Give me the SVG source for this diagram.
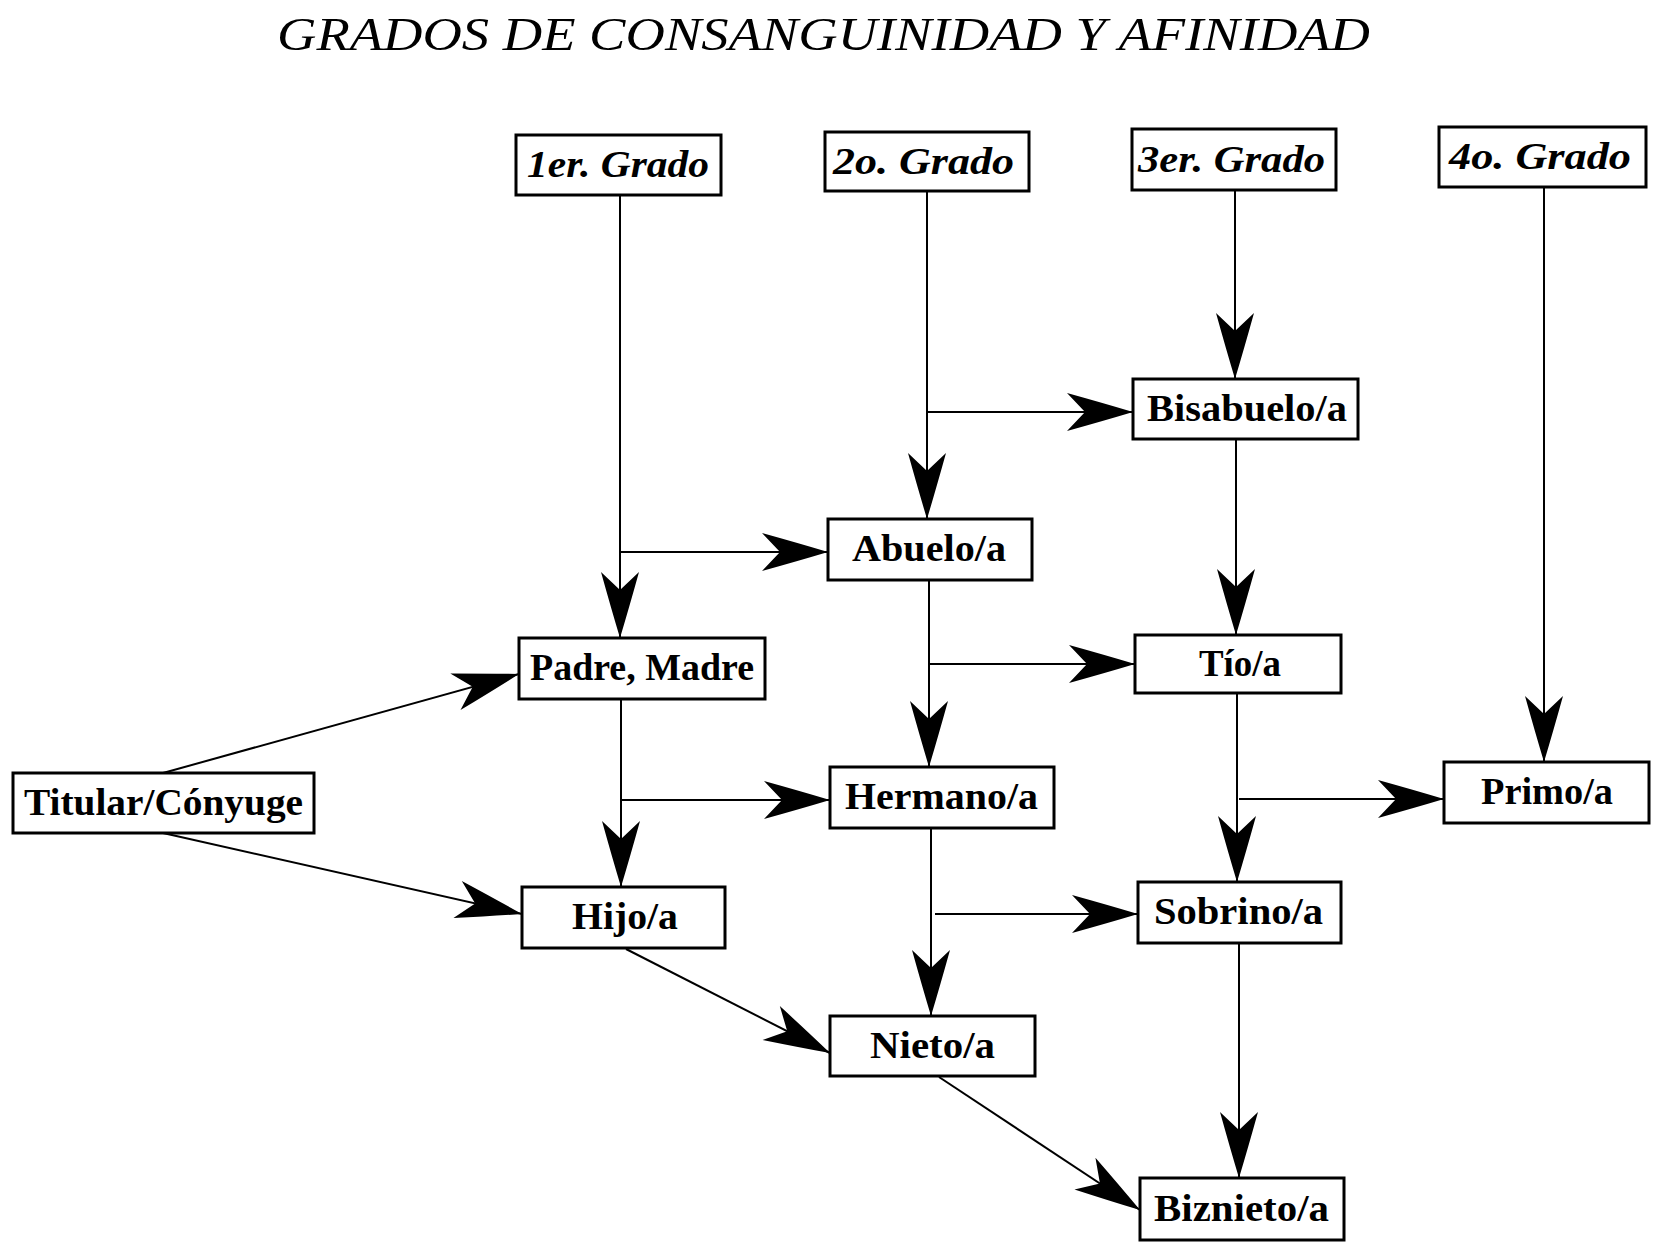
<svg xmlns="http://www.w3.org/2000/svg" width="1654" height="1250" viewBox="0 0 1654 1250">
<style>
.box{fill:#fff;stroke:#000;stroke-width:3}
.lbl{font-family:"Liberation Serif","Times New Roman",serif;font-weight:bold;font-size:38px;fill:#000}
.it{font-style:italic}
.title{font-family:"Liberation Serif","Times New Roman",serif;font-weight:normal;font-style:italic;font-size:46px;fill:#000}
.conn line{stroke:#000;stroke-width:2;fill:none;marker-end:url(#ah)}
</style>
<defs>
<marker id="ah" markerUnits="userSpaceOnUse" orient="auto" markerWidth="80" markerHeight="50" viewBox="-70 -25 80 50" refX="0" refY="0" overflow="visible">
<path d="M0,0 Q-30,-9 -66,-19 L-48,0 L-66,19 Q-30,9 0,0 Z" fill="#000"/>
</marker>
</defs>
<rect width="1654" height="1250" fill="#fff"/>
<text class="title" x="277" y="50" textLength="1093" lengthAdjust="spacingAndGlyphs">GRADOS DE CONSANGUINIDAD Y AFINIDAD</text>

<g id="connectors" class="conn">
<line x1="620" y1="195" x2="620" y2="638"/>
<line x1="620" y1="552" x2="828" y2="552"/>
<line x1="927" y1="191" x2="927" y2="519"/>
<line x1="927" y1="412" x2="1133" y2="412"/>
<line x1="1235" y1="190" x2="1235" y2="379"/>
<line x1="1236" y1="439" x2="1236" y2="635"/>
<line x1="929" y1="580" x2="929" y2="767"/>
<line x1="929" y1="664" x2="1135" y2="664"/>
<line x1="1544" y1="187" x2="1544" y2="762"/>
<line x1="621" y1="699" x2="621" y2="887"/>
<line x1="621" y1="800" x2="830" y2="800"/>
<line x1="163" y1="773" x2="519" y2="674"/>
<line x1="163" y1="833" x2="522" y2="914"/>
<line x1="1237" y1="693" x2="1237" y2="882"/>
<line x1="1239" y1="799" x2="1444" y2="799"/>
<line x1="931" y1="828" x2="931" y2="1016"/>
<line x1="935" y1="914" x2="1138" y2="914"/>
<line x1="626" y1="949" x2="830" y2="1053"/>
<line x1="939" y1="1077" x2="1140" y2="1210"/>
<line x1="1239" y1="943" x2="1239" y2="1178"/>
</g>

<g id="g1"><rect class="box" x="516" y="135" width="205" height="60"/><text class="lbl it" x="527" y="177" textLength="182" lengthAdjust="spacingAndGlyphs">1er. Grado</text></g>
<g id="g2"><rect class="box" x="825" y="132" width="204" height="59"/><text class="lbl it" x="833" y="174" textLength="181" lengthAdjust="spacingAndGlyphs">2o. Grado</text></g>
<g id="g3"><rect class="box" x="1132" y="129" width="204" height="61"/><text class="lbl it" x="1138" y="172" textLength="187" lengthAdjust="spacingAndGlyphs">3er. Grado</text></g>
<g id="g4"><rect class="box" x="1439" y="127" width="207" height="60"/><text class="lbl it" x="1449" y="169" textLength="182" lengthAdjust="spacingAndGlyphs">4o. Grado</text></g>

<g id="bisabuelo"><rect class="box" x="1133" y="379" width="225" height="60"/><text class="lbl" x="1147" y="421" textLength="200" lengthAdjust="spacingAndGlyphs">Bisabuelo/a</text></g>
<g id="abuelo"><rect class="box" x="828" y="519" width="204" height="61"/><text class="lbl" x="852" y="561" textLength="154" lengthAdjust="spacingAndGlyphs">Abuelo/a</text></g>
<g id="padre"><rect class="box" x="519" y="638" width="246" height="61"/><text class="lbl" x="530" y="680" textLength="224" lengthAdjust="spacingAndGlyphs">Padre, Madre</text></g>
<g id="titular"><rect class="box" x="13" y="773" width="301" height="60"/><text class="lbl" x="24" y="815" textLength="279" lengthAdjust="spacingAndGlyphs">Titular/Cónyuge</text></g>
<g id="hermano"><rect class="box" x="830" y="767" width="224" height="61"/><text class="lbl" x="845" y="809" textLength="193" lengthAdjust="spacingAndGlyphs">Hermano/a</text></g>
<g id="hijo"><rect class="box" x="522" y="887" width="203" height="61"/><text class="lbl" x="572" y="929" textLength="106" lengthAdjust="spacingAndGlyphs">Hijo/a</text></g>
<g id="tio"><rect class="box" x="1135" y="635" width="206" height="58"/><text class="lbl" x="1199" y="676" textLength="82" lengthAdjust="spacingAndGlyphs">Tío/a</text></g>
<g id="primo"><rect class="box" x="1444" y="762" width="205" height="61"/><text class="lbl" x="1481" y="804" textLength="132" lengthAdjust="spacingAndGlyphs">Primo/a</text></g>
<g id="sobrino"><rect class="box" x="1138" y="882" width="203" height="61"/><text class="lbl" x="1154" y="924" textLength="169" lengthAdjust="spacingAndGlyphs">Sobrino/a</text></g>
<g id="nieto"><rect class="box" x="830" y="1016" width="205" height="60"/><text class="lbl" x="870" y="1058" textLength="125" lengthAdjust="spacingAndGlyphs">Nieto/a</text></g>
<g id="biznieto"><rect class="box" x="1140" y="1178" width="204" height="62"/><text class="lbl" x="1154" y="1221" textLength="175" lengthAdjust="spacingAndGlyphs">Biznieto/a</text></g>
</svg>
